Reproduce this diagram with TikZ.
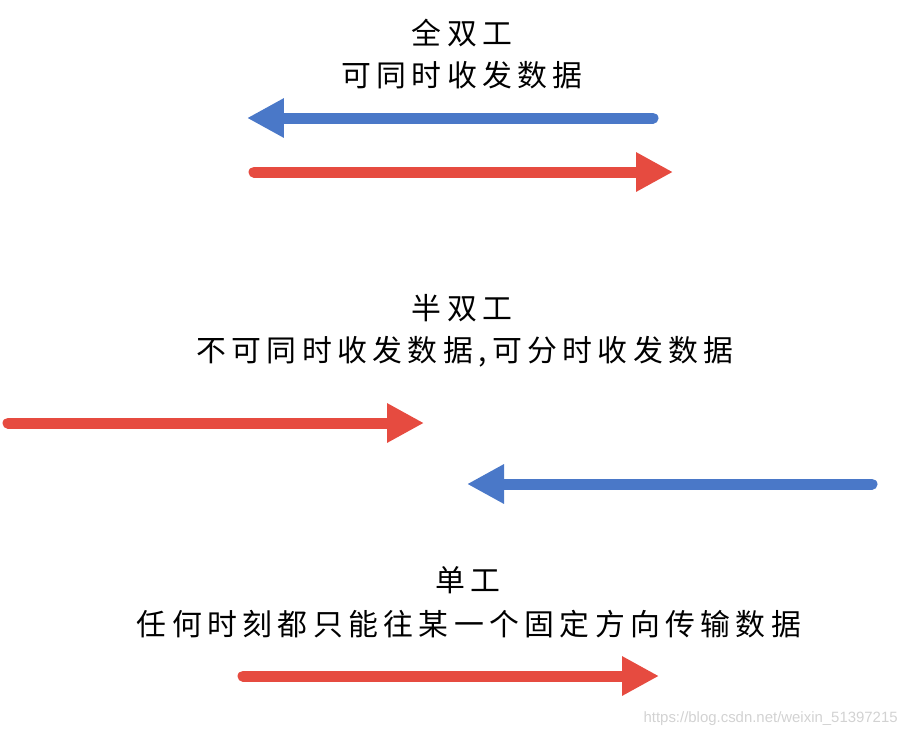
\documentclass[tikz,border=0pt]{standalone}
\usepackage{fontspec}
\usepackage{tikz}
\usetikzlibrary{arrows.meta}
\newfontfamily\cjk[LetterSpace=18]{Noto Sans CJK SC}
\setsansfont{Liberation Sans}
\definecolor{arrblue}{HTML}{4A78C8}
\definecolor{arrred}{HTML}{E64B40}
\definecolor{wmgray}{HTML}{D2D2D2}

\begin{document}
\begin{tikzpicture}[x=0.02cm,y=-0.02cm,
  lbl/.style={font=\cjk\fontsize{17pt}{20pt}\selectfont,inner sep=0pt},
  wide/.style={line width=0.22cm,line cap=round,-{Triangle[length=0.74cm,width=0.74cm]}}]
\useasboundingbox (0,0) rectangle (909,738);
% full duplex
\node[lbl] (fullT) at (462,33) {全双工};
\node[lbl] (fullD) at (462,75) {可同时收发数据};
\coordinate (fb1) at (653,118); \coordinate (fb2) at (247,118);
\coordinate (fr1) at (254,172); \coordinate (fr2) at (673,172);
\draw[wide,arrblue] (fb1)--(fb2);
\draw[wide,arrred] (fr1)--(fr2);
% half duplex
\node[lbl] (halfT) at (462,308) {半双工};
\node[lbl] (halfD) at (465,352) {不可同时收发数据,可分时收发数据};
\coordinate (hr1) at (8,423); \coordinate (hr2) at (424,423);
\coordinate (hb1) at (872,484); \coordinate (hb2) at (467,484);
\draw[wide,arrred] (hr1)--(hr2);
\draw[wide,arrblue] (hb1)--(hb2);
% simplex
\node[lbl] (simT) at (468,580) {单工};
\node[lbl] (simD) at (469,624) {任何时刻都只能往某一个固定方向传输数据};
\coordinate (sr1) at (243,676); \coordinate (sr2) at (659,676);
\draw[wide,arrred] (sr1)--(sr2);
\node[font=\sffamily\fontsize{8.5pt}{10pt}\selectfont,text=wmgray,anchor=east,inner sep=0pt] (mark) at (898,719) {https://blog.csdn.net/weixin\_51397215};
\end{tikzpicture}
\end{document}
